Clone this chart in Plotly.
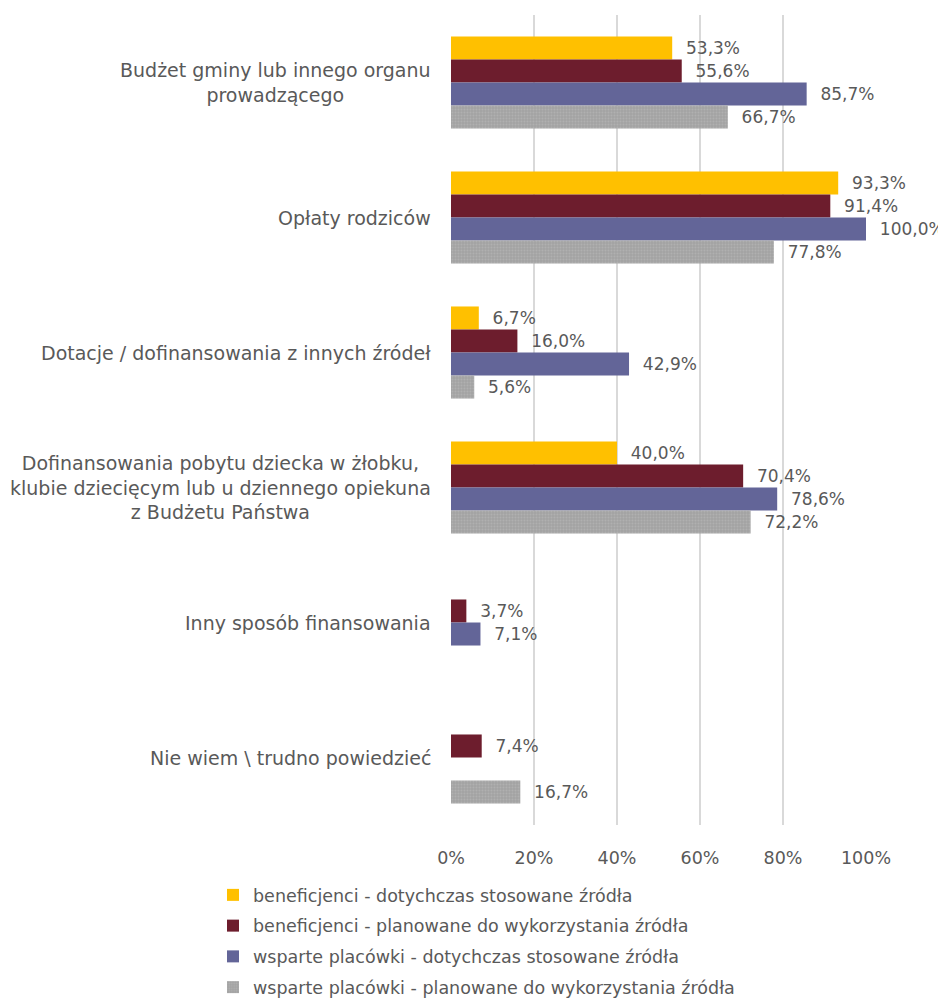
import plotly.graph_objects as go

categories = [
    "Budżet gminy lub innego organu<br>prowadzącego",
    "Opłaty rodziców",
    "Dotacje / dofinansowania z innych źródeł",
    "Dofinansowania pobytu dziecka w żłobku,<br>klubie dziecięcym lub u dziennego opiekuna<br>z Budżetu Państwa",
    "Inny sposób finansowania",
    "Nie wiem \\ trudno powiedzieć",
]
series_names = [
    "beneficjenci - dotychczas stosowane źródła",
    "beneficjenci - planowane do wykorzystania źródła",
    "wsparte placówki - dotychczas stosowane źródła",
    "wsparte placówki - planowane do wykorzystania źródła",
]
ben_dotychczas = [53.3, 93.3, 6.7, 40.0, None, None]
ben_planowane = [55.6, 91.4, 16.0, 70.4, 3.7, 7.4]
wsp_dotychczas = [85.7, 100.0, 42.9, 78.6, 7.1, None]
wsp_planowane = [66.7, 77.8, 5.6, 72.2, None, 16.7]
tick_vals = [0, 20, 40, 60, 80, 100]
tick_text = ["0%", "20%", "40%", "60%", "80%", "100%"]

colors = ["#FFC000", "#6D1D2D", "#636598", "#A5A5A5"]
all_series = [ben_dotychczas, ben_planowane, wsp_dotychczas, wsp_planowane]

FONT = "DejaVu Sans, sans-serif"
TXT = "#595959"

def fmt(v):
    if v is None:
        return ""
    return "\u00a0\u00a0" + f"{v:.1f}".replace(".", ",") + "%"

W, H = 938, 991

fig = go.Figure()
for i, (name, vals, col) in enumerate(zip(series_names, all_series, colors)):
    marker = dict(color=col, line=dict(width=0))
    if i == 3:
        marker = dict(color="#A5A5A5", line=dict(width=0),
                      pattern=dict(shape=".", size=3, solidity=0.3,
                                   fgcolor="#BDBDBD", bgcolor="#A3A3A3"))
    fig.add_trace(go.Bar(
        y=list(range(len(categories))), x=vals, name=name, orientation="h",
        marker=marker,
        text=[fmt(v) for v in vals], textposition="outside",
        textfont=dict(size=17, color=TXT, family=FONT),
        cliponaxis=False, legendgroup=f"g{i}",
    ))

for j, c in enumerate(categories):
    fig.add_annotation(x=0, xref="paper", xanchor="right", xshift=-18,
                       y=j, yref="y", yanchor="middle", text=c, showarrow=False,
                       align="center", font=dict(size=19, color=TXT, family=FONT))

fig.update_layout(
    width=W, height=H,
    margin=dict(l=443, r=80, t=7, b=174, autoexpand=False),
    barmode="group", bargap=0.318, bargroupgap=0,
    plot_bgcolor="white", paper_bgcolor="white",
    font=dict(family=FONT, color=TXT, size=17.5),
    xaxis=dict(range=[0, 100], tickvals=tick_vals, ticktext=tick_text,
               showgrid=True, gridcolor="#D9D9D9", gridwidth=2, zeroline=False,
               showline=False, ticks="", tickangle=0,
               tickfont=dict(size=17.5, color=TXT, family=FONT),
               ticklabelstandoff=20, automargin=False),
    yaxis=dict(range=[5.5, -0.5], showticklabels=False, showgrid=False,
               zeroline=False, showline=False, ticks="", automargin=False),
    legend=dict(xref="container", yref="container", x=205 / W, y=1 - 869 / H,
                xanchor="left", yanchor="top", orientation="v",
                font=dict(size=17.5, color=TXT, family=FONT),
                tracegroupgap=5, itemwidth=30, traceorder="grouped"),
    showlegend=True,
)

fig.write_html("out.html")
